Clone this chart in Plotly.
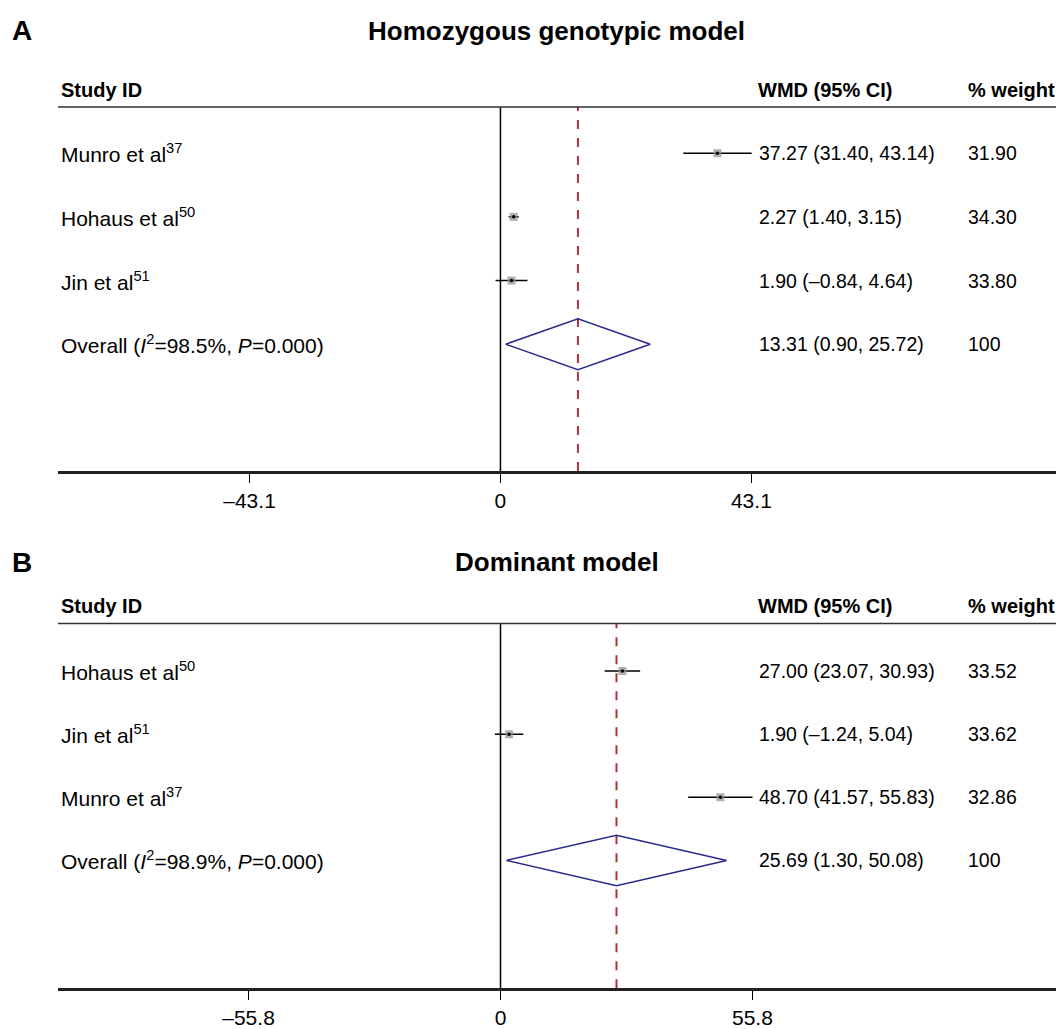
import plotly.graph_objects as go

# ---- Data ----
# Panel A: Homozygous genotypic model
a_studies = ["Munro et al<sup>37</sup>", "Hohaus et al<sup>50</sup>", "Jin et al<sup>51</sup>"]
a_est = [37.27, 2.27, 1.90]
a_lo = [31.40, 1.40, -0.84]
a_hi = [43.14, 3.15, 4.64]
a_weight = ["31.90", "34.30", "33.80"]
a_overall = [13.31, 0.90, 25.72]
a_overall_label = "Overall (<i>I</i><sup>2</sup>=98.5%, <i>P</i>=0.000)"
a_ticks = [-43.1, 0, 43.1]
a_ticktext = ["–43.1", "0", "43.1"]

# Panel B: Dominant model
b_studies = ["Hohaus et al<sup>50</sup>", "Jin et al<sup>51</sup>", "Munro et al<sup>37</sup>"]
b_est = [27.00, 1.90, 48.70]
b_lo = [23.07, -1.24, 41.57]
b_hi = [30.93, 5.04, 55.83]
b_weight = ["33.52", "33.62", "32.86"]
b_overall = [25.69, 1.30, 50.08]
b_overall_label = "Overall (<i>I</i><sup>2</sup>=98.9%, <i>P</i>=0.000)"
b_ticks = [-55.8, 0, 55.8]
b_ticktext = ["–55.8", "0", "55.8"]

# page has an 8px body margin: figure is 8px smaller and offset
OFF = 8
W, H = 1064 - OFF, 1029 - OFF
FONT = "Liberation Sans, Arial, sans-serif"
NAVY = "#2b2b8c"
RED = "#b03040"
FS_LAB = 21
FS_NUM = 19.5


def px(x):
    return (x - OFF) / W


def py(y):
    return 1 - (y - OFF) / H


def fmt(v):
    return f"{v:.2f}".replace("-", "–")


fig = go.Figure()
annotations = []
shapes = []

panels = [
    dict(studies=a_studies, est=a_est, lo=a_lo, hi=a_hi, weight=a_weight, overall=a_overall,
         olabel=a_overall_label, xref="x", yref="y",
         letter="A", title="Homozygous genotypic model", title_y=31, header_y=91, hline=108),
    dict(studies=b_studies, est=b_est, lo=b_lo, hi=b_hi, weight=b_weight, overall=b_overall,
         olabel=b_overall_label, xref="x2", yref="y2",
         letter="B", title="Dominant model", title_y=567, header_y=611, hline=629),
]

for p in panels:
    xr, yr = p["xref"], p["yref"]
    n = len(p["studies"])
    rows = list(range(1, n + 1))
    orow = n + 1
    for i in range(n):
        fig.add_trace(go.Scatter(x=[p["lo"][i], p["hi"][i]], y=[rows[i], rows[i]], mode="lines",
                                 line=dict(color="black", width=1.5), xaxis=xr, yaxis=yr,
                                 showlegend=False, hoverinfo="skip"))
    fig.add_trace(go.Scatter(x=p["est"], y=rows, mode="markers",
                             marker=dict(symbol="square", size=8, color="rgba(150,150,150,0.75)"),
                             xaxis=xr, yaxis=yr, showlegend=False))
    fig.add_trace(go.Scatter(x=p["est"], y=rows, mode="markers",
                             marker=dict(symbol="circle", size=3.5, color="black"),
                             xaxis=xr, yaxis=yr, showlegend=False))
    e, l, h = p["overall"]
    dh = 0.4
    fig.add_trace(go.Scatter(x=[l, e, h, e, l], y=[orow, orow - dh, orow, orow + dh, orow],
                             mode="lines", line=dict(color=NAVY, width=1.5),
                             xaxis=xr, yaxis=yr, showlegend=False, hoverinfo="skip"))
    shapes.append(dict(type="line", xref=xr, yref=f"{yr} domain", x0=0, x1=0, y0=0, y1=1,
                       line=dict(color="black", width=1.5), layer="below"))
    shapes.append(dict(type="line", xref=xr, yref=f"{yr} domain", x0=e, x1=e, y0=0, y1=1,
                       line=dict(color=RED, width=2, dash="dash"), layer="below"))
    shapes.append(dict(type="line", xref="paper", yref="paper", x0=px(58), x1=1,
                       y0=py(p["hline"]), y1=py(p["hline"]),
                       line=dict(color="#333333", width=1.5)))
    labels = p["studies"] + [p["olabel"]]
    cis = [f"{fmt(p['est'][i])} ({fmt(p['lo'][i])}, {fmt(p['hi'][i])})" for i in range(n)]
    cis.append(f"{fmt(e)} ({fmt(l)}, {fmt(h)})")
    weights = p["weight"] + ["100"]
    for i, r in enumerate(rows + [orow]):
        for txt, xx, fs in [(labels[i], 59, FS_LAB), (cis[i], 757, FS_NUM), (weights[i], 966, FS_NUM)]:
            annotations.append(dict(x=px(xx), y=r, xref="paper", yref=yr, text=txt,
                                    showarrow=False, xanchor="left", yanchor="middle",
                                    font=dict(size=fs, color="black", family=FONT)))
    for txt, xx in [("Study ID", 59), ("WMD (95% CI)", 756), ("% weight", 966)]:
        annotations.append(dict(x=px(xx), y=py(p["header_y"]), xref="paper", yref="paper",
                                text=f"<b>{txt}</b>", showarrow=False, xanchor="left",
                                yanchor="middle", font=dict(size=20, color="black", family=FONT)))
    annotations.append(dict(x=px(556.5), y=py(p["title_y"]), xref="paper", yref="paper",
                            text=f"<b>{p['title']}</b>", showarrow=False, xanchor="center",
                            yanchor="middle", font=dict(size=26, color="black", family=FONT)))
    annotations.append(dict(x=px(10), y=py(p["title_y"]), xref="paper", yref="paper",
                            text=f"<b>{p['letter']}</b>", showarrow=False, xanchor="left",
                            yanchor="middle", font=dict(size=28, color="black", family=FONT)))

axis_common = dict(showgrid=False, zeroline=False, showline=True, linecolor="#222222",
                   linewidth=2.5, ticks="outside", ticklen=9, tickcolor="black", tickwidth=1,
                   tickfont=dict(size=FS_LAB, color="black", family=FONT),
                   domain=[px(58), 1], fixedrange=True)
yaxis_common = dict(visible=False, showgrid=False, zeroline=False, fixedrange=True)

fig.update_layout(
    width=W, height=H, margin=dict(l=0, r=0, t=0, b=0),
    paper_bgcolor="white", plot_bgcolor="white",
    xaxis=dict(**axis_common, range=[-76.0, 96.8], tickvals=a_ticks, ticktext=a_ticktext,
               anchor="y"),
    yaxis=dict(**yaxis_common, range=[5.99, 0.276], domain=[py(475), py(108)], anchor="x"),
    xaxis2=dict(**axis_common, range=[-98.0, 124.8], tickvals=b_ticks, ticktext=b_ticktext,
                anchor="y2"),
    yaxis2=dict(**yaxis_common, range=[6.025, 0.246], domain=[py(997), py(629)], anchor="x2"),
    annotations=annotations, shapes=shapes, showlegend=False,
)

fig.write_html("out.html")
